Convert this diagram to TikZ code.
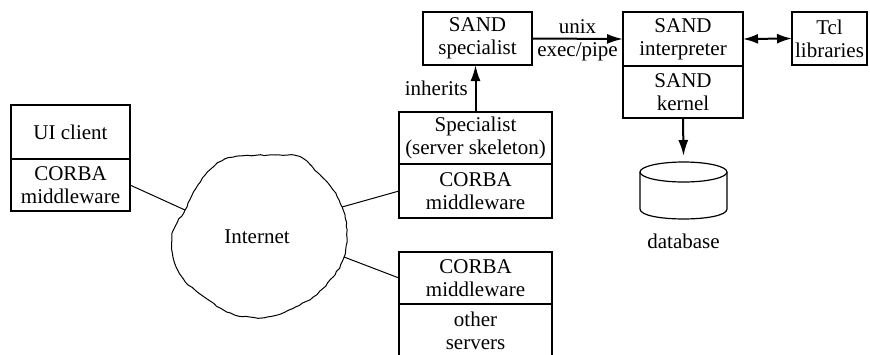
\documentclass[tikz,border=0pt]{standalone}
\usepackage{fontspec}
\setmainfont{Liberation Serif}
\usetikzlibrary{arrows.meta,positioning,decorations.pathmorphing}

\begin{document}
\begin{tikzpicture}[x=0.5pt,y=-0.5pt,
    txt/.style={font=\fontsize{10.5}{11.5}\selectfont,align=center},
    box/.style={txt,draw,line width=0.6pt,inner sep=0pt,outer sep=0pt},
    flow/.style={line width=1pt,-{Latex[length=8pt,width=5pt]}},
    both/.style={line width=1pt,{Latex[length=7.5pt,width=5pt]}-{Latex[length=7.5pt,width=5pt]}},
    link/.style={line width=0.5pt}]
  \path[use as bounding box,clip] (0,0) rectangle (870,354);
  % UI client
  \node[box,minimum width=59.5pt,minimum height=27pt] (ui) at (70.5,132) {UI client};
  \node[box,minimum width=59.5pt,minimum height=26pt,below=0pt of ui] (uimw) {CORBA\\middleware};
  % Specialist with its middleware
  \node[box,minimum width=76.5pt,minimum height=26pt] (spec) at (475.5,138) {Specialist\\(server skeleton)};
  \node[box,minimum width=76.5pt,minimum height=27pt,below=0pt of spec] (specmw) {CORBA\\middleware};
  % Other servers (runs off the bottom)
  \node[box,minimum width=76.5pt,minimum height=26pt] (othmw) at (475.5,278) {CORBA\\middleware};
  \node[box,minimum width=76.5pt,minimum height=27pt,below=0pt of othmw] (oth) {other\\servers};
  % SAND side
  \node[box,minimum width=54.5pt,minimum height=26.5pt] (sandsp) at (477.5,38.5) {SAND\\specialist};
  \node[box,minimum width=60pt,minimum height=27pt] (interp) at (683,39) {SAND\\interpreter};
  \node[box,minimum width=60pt,minimum height=26pt,below=0pt of interp] (kernel) {SAND\\kernel};
  \node[box,minimum width=37.5pt,minimum height=26.5pt] (tcl) at (829.5,38.5) {Tcl\\libraries};
  % Internet cloud
  \pgfmathsetseed{7}
  \draw[link,decorate,decoration={random steps,segment length=2pt,amplitude=0.3pt}]
    plot[smooth cycle] coordinates {(240,156) (275,155) (300,157) (317,172) (333,190) (342,207)
      (347,230) (344,257) (333,277) (313,297) (283,313) (258,318) (227,312) (195,290) (182,277)
      (173,257) (172,237) (177,223) (185,210) (198,185) (212,168) (225,159)};
  \node[txt] (inet) at (257,237) {Internet};
  \coordinate (c1) at (185,210);
  \coordinate (c2) at (342,207);
  \coordinate (c3) at (344,257);
  \draw[link] (uimw.east) -- (c1);
  \draw[link] (specmw.west) -- (c2);
  \draw[link] (othmw.west) -- (c3);
  % Database
  \coordinate (db) at (683.5,156);
  \draw[link,line width=0.6pt] (683.5,172) ellipse [x radius=43.5, y radius=10];
  \draw[link,line width=0.6pt] (640,172) -- (640,209) .. controls (640,222.3) and (727,222.3) .. (727,209) -- (727,172);
  \node[txt] (dblabel) at (683.5,241) {database};
  % Arrows
  \draw[flow] (spec.north) -- (spec.north |- sandsp.south) node[txt,midway,left] {inherits};
  \draw[flow] (sandsp.east) -- (interp.west) node[txt,midway,yshift=-1pt] {unix\\exec/pipe};
  \draw[both] (interp.east) -- (tcl.west);
  \draw[flow] (kernel.south) -- (db);
\end{tikzpicture}
\end{document}
